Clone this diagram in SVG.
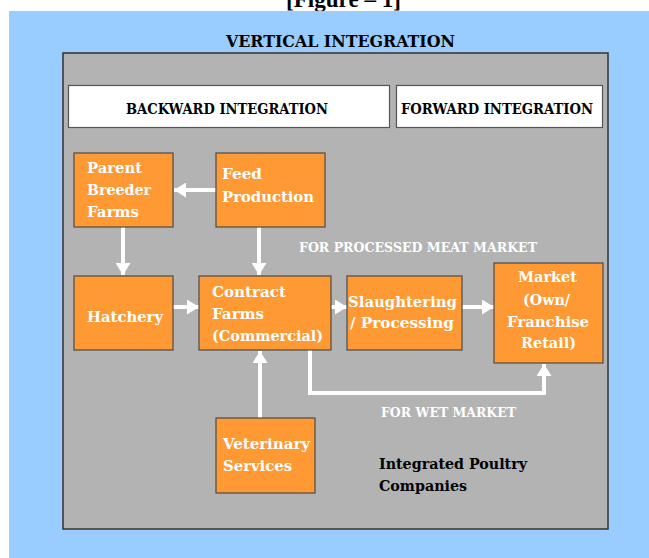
<svg xmlns="http://www.w3.org/2000/svg" width="649" height="558" viewBox="0 0 649 558">
<defs>
<style>
.t{font-family:"DejaVu Serif","Liberation Serif",serif;font-weight:bold}
.w{fill:#ffffff}
.k{fill:#000000}
.box{fill:#ff9933;stroke:#4a4a4a;stroke-width:1.2}
.hdr{fill:#ffffff;stroke:#555555;stroke-width:1.2}
.c{stroke:#ffffff;stroke-width:4;fill:none}
</style>
<marker id="ah" markerUnits="userSpaceOnUse" markerWidth="13" markerHeight="15" refX="12" refY="7.5" orient="auto">
<path d="M0,0 L12,7.5 L0,15 z" fill="#ffffff"/>
</marker>
</defs>
<rect x="0" y="0" width="649" height="558" fill="#ffffff"/>
<text class="t k" x="286" y="7" font-family="Liberation Serif" font-size="23" textLength="115" lengthAdjust="spacingAndGlyphs" style="font-family:'Liberation Serif',serif">[Figure – 1]</text>
<rect x="9" y="11" width="640" height="547" fill="#99ccff"/>
<text class="t k" x="226" y="47" font-size="16" textLength="229" lengthAdjust="spacingAndGlyphs">VERTICAL INTEGRATION</text>
<rect x="63" y="53" width="545" height="476" fill="#b3b3b3" stroke="#333333" stroke-width="1.5"/>
<g id="backward">
<rect class="hdr" x="68.5" y="85.5" width="321" height="42"/>
<text class="t k" x="126" y="114" font-size="14" textLength="202" lengthAdjust="spacingAndGlyphs">BACKWARD INTEGRATION</text>
</g>
<g id="forward">
<rect class="hdr" x="396.5" y="85.5" width="206" height="42"/>
<text class="t k" x="401" y="114" font-size="14" textLength="192" lengthAdjust="spacingAndGlyphs">FORWARD INTEGRATION</text>
</g>
<g id="connectors">
<line class="c" x1="216" y1="190" x2="174" y2="190" marker-end="url(#ah)"/>
<line class="c" x1="123" y1="227" x2="123" y2="275" marker-end="url(#ah)"/>
<line class="c" x1="259" y1="227" x2="259" y2="275" marker-end="url(#ah)"/>
<line class="c" x1="173" y1="307" x2="199" y2="307" marker-end="url(#ah)"/>
<line class="c" x1="331" y1="307" x2="347" y2="307" marker-end="url(#ah)"/>
<line class="c" x1="462" y1="307" x2="494" y2="307" marker-end="url(#ah)"/>
<line class="c" x1="260" y1="418" x2="260" y2="351" marker-end="url(#ah)"/>
<path class="c" d="M310,350 V393 H544 V364" marker-end="url(#ah)"/>
<text class="t w" x="299" y="252" font-size="13" textLength="238" lengthAdjust="spacingAndGlyphs">FOR PROCESSED MEAT MARKET</text>
<text class="t w" x="381" y="417" font-size="13" textLength="135" lengthAdjust="spacingAndGlyphs">FOR WET MARKET</text>
</g>
<g id="parent">
<rect class="box" x="74" y="153" width="99" height="74"/>
<text class="t w" font-size="15" x="87" y="173" textLength="55" lengthAdjust="spacingAndGlyphs">Parent</text>
<text class="t w" font-size="15" x="87" y="195" textLength="64" lengthAdjust="spacingAndGlyphs">Breeder</text>
<text class="t w" font-size="15" x="87" y="217" textLength="52" lengthAdjust="spacingAndGlyphs">Farms</text>
</g>
<g id="feed">
<rect class="box" x="216" y="153" width="109" height="74"/>
<text class="t w" font-size="15" x="222" y="179" textLength="40" lengthAdjust="spacingAndGlyphs">Feed</text>
<text class="t w" font-size="15" x="222" y="202" textLength="92" lengthAdjust="spacingAndGlyphs">Production</text>
</g>
<g id="hatchery">
<rect class="box" x="74" y="276" width="99" height="74"/>
<text class="t w" font-size="15" x="87" y="322" textLength="76" lengthAdjust="spacingAndGlyphs">Hatchery</text>
</g>
<g id="contract">
<rect class="box" x="199" y="276" width="132" height="74"/>
<text class="t w" font-size="15" x="212" y="297" textLength="74" lengthAdjust="spacingAndGlyphs">Contract</text>
<text class="t w" font-size="15" x="212" y="319" textLength="52" lengthAdjust="spacingAndGlyphs">Farms</text>
<text class="t w" font-size="15" x="212" y="341" textLength="111" lengthAdjust="spacingAndGlyphs">(Commercial)</text>
</g>
<g id="slaughter">
<rect class="box" x="347" y="276" width="115" height="74"/>
<text class="t w" font-size="15" x="348" y="307" textLength="109" lengthAdjust="spacingAndGlyphs">Slaughtering</text>
<text class="t w" font-size="15" x="350" y="328" textLength="104" lengthAdjust="spacingAndGlyphs">/ Processing</text>
</g>
<g id="market">
<rect class="box" x="494" y="263" width="109" height="100"/>
<text class="t w" font-size="15" x="518" y="282" textLength="59" lengthAdjust="spacingAndGlyphs">Market</text>
<text class="t w" font-size="15" x="523" y="305" textLength="47" lengthAdjust="spacingAndGlyphs">(Own/</text>
<text class="t w" font-size="15" x="507" y="327" textLength="82" lengthAdjust="spacingAndGlyphs">Franchise</text>
<text class="t w" font-size="15" x="521" y="348" textLength="55" lengthAdjust="spacingAndGlyphs">Retail)</text>
</g>
<g id="veterinary">
<rect class="box" x="216" y="418" width="99" height="75"/>
<text class="t w" font-size="15" x="223" y="449" textLength="87" lengthAdjust="spacingAndGlyphs">Veterinary</text>
<text class="t w" font-size="15" x="223" y="471" textLength="69" lengthAdjust="spacingAndGlyphs">Services</text>
</g>
<g id="companies">
<text class="t k" font-size="15" x="379" y="469" textLength="148" lengthAdjust="spacingAndGlyphs">Integrated Poultry</text>
<text class="t k" font-size="15" x="379" y="491" textLength="88" lengthAdjust="spacingAndGlyphs">Companies</text>
</g>
</svg>
